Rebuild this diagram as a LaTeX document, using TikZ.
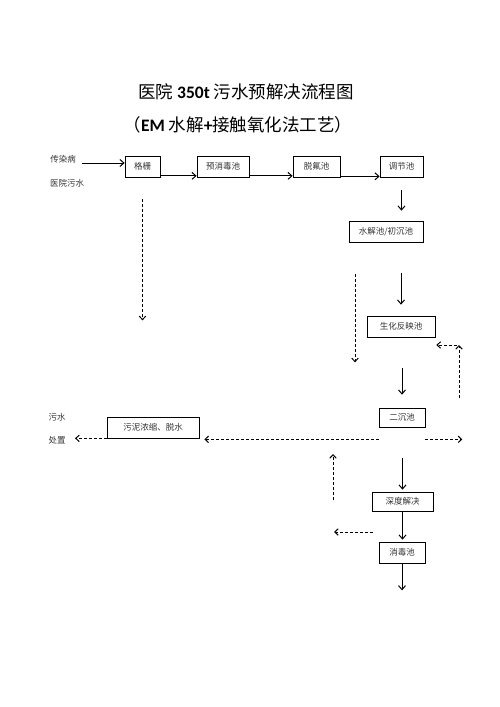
\documentclass[tikz,border=0pt]{standalone}
\usepackage{fontspec}
\usetikzlibrary{arrows.meta}
\setmainfont{Noto Sans CJK SC}
\newfontfamily\latbold{Carlito}

\begin{document}
\begin{tikzpicture}[x=1pt,y=-1pt,
  pool/.style={draw, line width=0.7pt, minimum height=21pt, inner sep=1pt, font=\fontsize{8.5}{10}\selectfont, text=black!80},
  lbl/.style={font=\fontsize{8.5}{10}\selectfont, text=black!80},
  flow/.style={-{Straight Barb[length=4pt,width=7pt]}, line width=1pt},
  back/.style={-{Straight Barb[length=3.5pt,width=6.5pt]}, line width=1pt, dash pattern=on 3pt off 2pt}]
  \useasboundingbox (0,0) rectangle (500,707);

  \node (title) at (246,92) {\fontsize{17.5}{20}\selectfont 医院 {\latbold\bfseries 350t} 污水预解决流程图};
  \node (subtitle) at (238,125) {\fontsize{17.5}{20}\selectfont （{\latbold\bfseries EM} 水解{\latbold\bfseries +}接触氧化法工艺）};

  \node[lbl] (src1) at (63,159) {传染病};
  \node[lbl] (src2) at (67,183) {医院污水};
  \node[lbl] (dis1) at (57,417) {污水};
  \node[lbl] (dis2) at (57,440) {处置};

  \node[pool, minimum width=35pt] (grille) at (142.5,166.5) {格栅};
  \node[pool, minimum width=52pt] (predis) at (223,166.5) {预消毒池};
  \node[pool, minimum width=47pt] (defl) at (316.5,166.5) {脱氟池};
  \node[pool, minimum width=43pt] (adjust) at (401.5,166.5) {调节池};
  \node[pool, minimum width=74pt] (hydro) at (386,231.5) {水解池/初沉池};
  \node[pool, minimum width=68pt] (bio) at (401,326.5) {生化反映池};
  \node[pool, minimum width=46pt, minimum height=19pt] (sec) at (402,417.5) {二沉池};
  \node[pool, minimum width=92pt] (sludge) at (153,427.5) {污泥浓缩、脱水};
  \node[pool, minimum width=61pt, minimum height=19pt] (deep) at (402.5,501.5) {深度解决};
  \node[pool, minimum width=46pt] (disinf) at (402,552.5) {消毒池};

  \coordinate (inlet) at (82,163);
  \coordinate (outlet) at ([yshift=-27pt]disinf.south);
  \coordinate (ret) at (459,345);
  \coordinate (mud) at ([yshift=-12pt]sec.south west);
  \coordinate (rise) at (333,500);
  \coordinate (aside) at (373,532);

  % main line
  \draw[flow] (inlet) -- (inlet -| grille.west);
  \draw[flow] ([yshift=1.5pt]grille.south east) -- ([yshift=1.5pt]predis.south west);
  \draw[flow] ([yshift=1.5pt]predis.south east) -- ([yshift=1.5pt]defl.south west);
  \draw[flow] ([yshift=1pt]defl.south east) -- ([yshift=1pt]adjust.south west);
  \draw[flow] ([yshift=-13pt]adjust.south) -- ([yshift=10pt]adjust.south |- hydro.north);
  \draw[flow] ([yshift=-31pt]hydro.south -| bio.north) -- ([yshift=11pt]bio.north);
  \draw[flow] ([yshift=-31pt]bio.south -| sec.north) -- ([yshift=13pt]sec.north);
  \draw[flow] ([yshift=-31pt]sec.south -| deep.north) -- ([yshift=2pt]deep.north);
  \draw[flow] (deep.south) -- ([yshift=2pt]deep.south |- disinf.north);
  \draw[flow] (disinf.south) -- (outlet);

  % sludge and return
  \draw[back] ([yshift=-22pt]grille.south) -- ([yshift=-143pt]grille.south);
  \draw[back] ([xshift=-31pt,yshift=-32pt]hydro.south) -- ([xshift=-31pt,yshift=-120pt]hydro.south);
  \draw[back] ([yshift=-53pt]ret) -- (ret);
  \draw[back] ([xshift=-2pt]ret) -- ([xshift=1pt]ret -| bio.east);
  \draw[back] (mud) -- ([xshift=5pt]mud -| sludge.east);
  \draw[back] ([yshift=-12pt]sec.south east) -- ++(37,0);
  \draw[back] (sludge.south west) -- ([xshift=6pt]sludge.south west -| dis2.east);
  \draw[back] (rise) -- ++(0,-46);
  \draw[back] (aside) -- ++(-39,0);
\end{tikzpicture}
\end{document}
